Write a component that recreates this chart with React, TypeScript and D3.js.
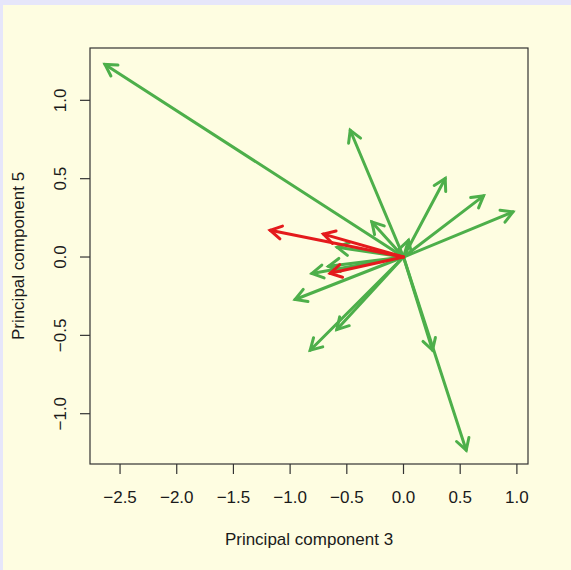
import React from "react";
import * as d3 from "d3";

// loadings on PC3 (x) and PC5 (y)
const greenX = [-2.633, -0.47, 0.368, 0.706, 0.965, -0.279, 0.044, 0.553, 0.256, -0.585, -0.808, -0.662, -0.956, -0.588, -0.823];
const greenY = [1.229, 0.809, 0.501, 0.39, 0.288, 0.224, 0.107, -1.233, -0.595, 0.062, -0.105, -0.059, -0.271, -0.463, -0.595];
const redX = [-1.176, -0.706, -0.647];
const redY = [0.171, 0.146, -0.104];

const xTicks = [-2.5, -2.0, -1.5, -1.0, -0.5, 0.0, 0.5, 1.0];
const yTicks = [-1.0, -0.5, 0.0, 0.5, 1.0];

const W = 571;
const H = 570;
const left = 90, right = 528, top = 48, bottom = 464;

const fmt = (v: number) => d3.format(".1f")(v).replace("-", "\u2212");

export default function App() {
  const x = d3.scaleLinear().domain([-2.765, 1.098]).range([left, right]);
  const y = d3.scaleLinear().domain([-1.321, 1.334]).range([bottom, top]);

  const headLen = 13;
  const headAng = Math.PI / 6;

  const arrow = (vx: number, vy: number, color: string, key: string) => {
    const x0 = x(0), y0 = y(0);
    const x1 = x(vx), y1 = y(vy);
    const a = Math.atan2(y1 - y0, x1 - x0);
    const p1 = [x1 - headLen * Math.cos(a - headAng), y1 - headLen * Math.sin(a - headAng)];
    const p2 = [x1 - headLen * Math.cos(a + headAng), y1 - headLen * Math.sin(a + headAng)];
    return (
      <g key={key} stroke={color} strokeWidth={3} fill="none" strokeLinecap="round" strokeLinejoin="miter">
        <line x1={x0} y1={y0} x2={x1} y2={y1} />
        <polyline points={`${p1[0]},${p1[1]} ${x1},${y1} ${p2[0]},${p2[1]}`} />
      </g>
    );
  };

  const font = "Liberation Sans, Arial, sans-serif";

  return (
    <svg width={W} height={H} style={{ position: "absolute", left: 0, top: 0 }} fontFamily={font}>
      <rect width={W} height={H} fill="#E6E6FA" />
      <rect x={3} y={5} width={W - 3} height={H - 5} fill="#FEFDE1" />

      {greenX.map((v, i) => arrow(v, greenY[i], "#4DAF4A", "g" + i))}
      {redX.map((v, i) => arrow(v, redY[i], "#E41A1C", "r" + i))}

      <rect x={left} y={top} width={right - left} height={bottom - top} fill="none" stroke="#333" strokeWidth={1.2} />

      {/* x axis */}
      {xTicks.map((t) => (
        <g key={"x" + t}>
          <line x1={x(t)} x2={x(t)} y1={bottom} y2={bottom + 10} stroke="#333" strokeWidth={1.2} />
          <text x={x(t)} y={503} textAnchor="middle" fontSize={17} fill="#1a1a1a">{fmt(t)}</text>
        </g>
      ))}
      {/* y axis */}
      {yTicks.map((t) => (
        <g key={"y" + t}>
          <line x1={left - 10} x2={left} y1={y(t)} y2={y(t)} stroke="#333" strokeWidth={1.2} />
          <text transform={`translate(66,${y(t)}) rotate(-90)`} textAnchor="middle" fontSize={17} fill="#1a1a1a">{fmt(t)}</text>
        </g>
      ))}

      <text x={(left + right) / 2} y={545} textAnchor="middle" fontSize={17} fill="#1a1a1a">Principal component 3</text>
      <text transform={`translate(24,${(top + bottom) / 2}) rotate(-90)`} textAnchor="middle" fontSize={17} fill="#1a1a1a">Principal component 5</text>
    </svg>
  );
}
